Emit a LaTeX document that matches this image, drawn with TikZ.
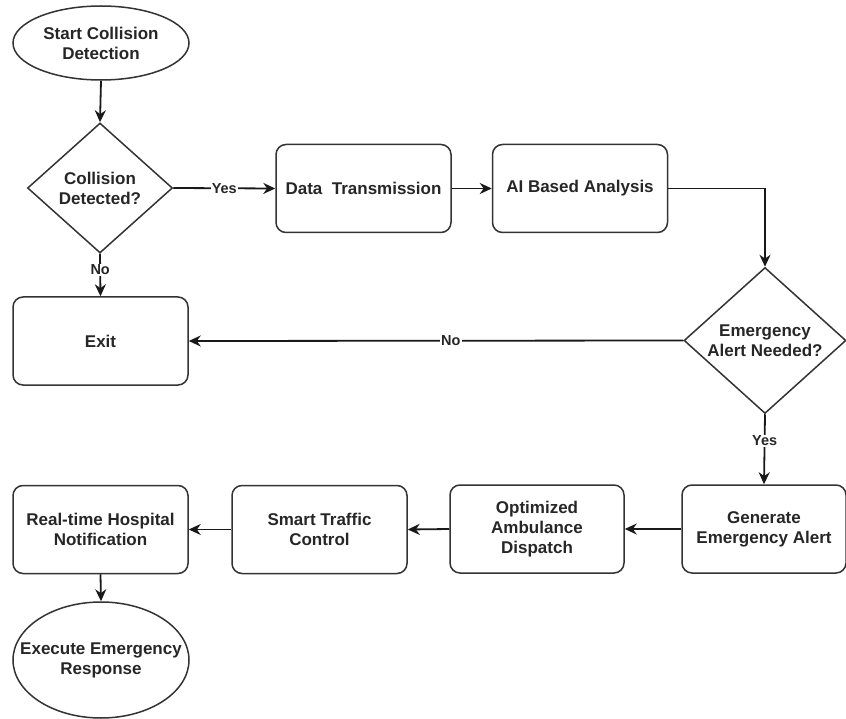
\documentclass[tikz,border=0pt]{standalone}
\usepackage{fontspec}
\setmainfont{Liberation Sans}
\usetikzlibrary{shapes.geometric,arrows.meta}
\begin{document}
\begin{tikzpicture}[x=1pt,y=-1pt,
  base/.style={draw=black!80, line width=1.5pt, inner sep=0pt, align=center,
    font=\fontsize{17}{20}\selectfont\bfseries, text=black!85},
  procbox/.style={base, rectangle, rounded corners=10pt, minimum width=175pt, minimum height=88pt},
  termin/.style={base, ellipse, minimum width=176pt},
  decision/.style={base, diamond},
  conn/.style={draw=black!90, line width=1.8pt, -{Stealth[length=12pt,width=11pt]}},
  lbl/.style={fill=white, inner sep=1pt, font=\fontsize{14.5}{16}\selectfont\bfseries, text=black!85}
]
\useasboundingbox (0,0) rectangle (846,719);

\node[termin, minimum height=74pt] (start) at (101,43) {\makebox[0pt]{Start Collision}\\\makebox[0pt]{Detection}};
\node[decision, minimum width=145pt, minimum height=130pt] (d1) at (100,188) {Collision\\Detected?};
\node[procbox] (data) at (363.5,188.5) {Data\ \ Transmission};
\node[procbox] (ai) at (580,188.5) {AI Based Analysis};
\node[procbox] (exit) at (100.5,341) {Exit};
\node[decision, minimum width=162pt, minimum height=146pt] (d2) at (765,340.5) {\makebox[0pt]{Emergency}\\\makebox[0pt]{Alert Needed?}};
\node[procbox, minimum width=164pt] (gen) at (764,529) {Generate\\Emergency Alert};
\node[procbox, minimum width=174pt] (opt) at (537,529) {Optimized\\Ambulance\\Dispatch};
\node[procbox] (smart) at (319.5,529.5) {Smart Traffic\\Control};
\node[procbox] (real) at (100.5,529.5) {Real-time Hospital\\Notification};
\node[termin, minimum height=116pt] (exec) at (101,660) {\makebox[0pt]{Execute Emergency}\\\makebox[0pt]{Response}};

\draw[conn] (start.south) -- (d1.north);
\draw[conn] (d1.east) -- node[lbl, pos=0.5] {Yes} (data.west);
\draw[conn] (d1.south) -- node[lbl, pos=0.38] {No} (exit.north);
\draw[conn] (data.east) -- (ai.west);
\draw[conn] (ai.east) -| (d2.north);
\draw[conn] (d2.west) -- node[lbl, pos=0.47] {No} (exit.east);
\draw[conn] (d2.south) -- node[lbl, pos=0.38] {Yes} (gen.north);
\draw[conn] (gen.west) -- (opt.east);
\draw[conn] (opt.west) -- (smart.east);
\draw[conn] (smart.west) -- (real.east);
\draw[conn] (real.south) -- (exec.north);
\end{tikzpicture}
\end{document}
